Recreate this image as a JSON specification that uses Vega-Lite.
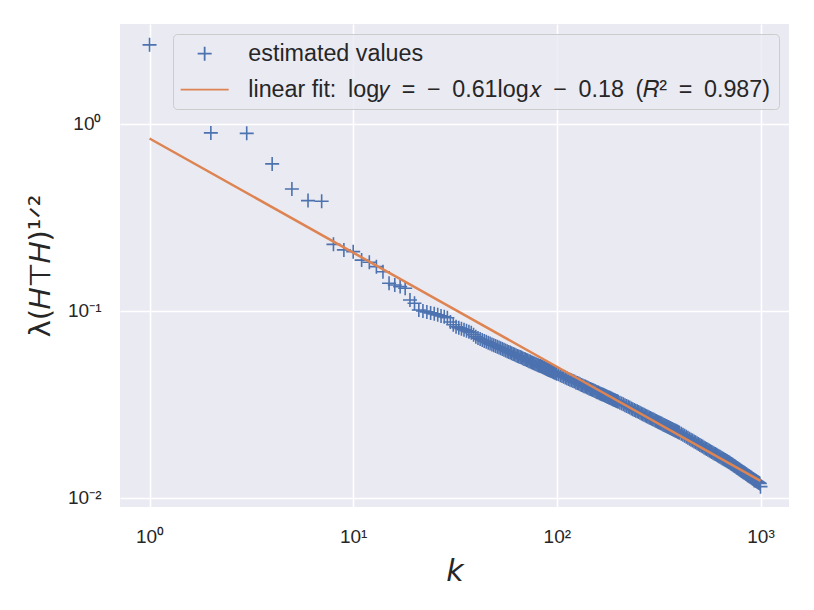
{
  "$schema": "https://vega.github.io/schema/vega-lite/v6.json",
  "width": 669,
  "height": 483,
  "autosize": {"type": "none"},
  "padding": {"left": 120, "top": 24, "right": 25, "bottom": 103},
  "background": "#ffffff",
  "config": {
    "view": {"fill": "#EAEAF2", "stroke": null},
    "font": "Liberation Sans",
    "axis": {
      "domain": false,
      "ticks": false,
      "gridColor": "#ffffff",
      "gridWidth": 1.6,
      "labelFont": "Liberation Sans",
      "labelFontSize": 19,
      "labelColor": "#262626",
      "labelFlush": false,
      "titleColor": "#262626",
      "titleFont": "DejaVu Sans",
      "titleFontWeight": "normal"
    }
  },
  "data": {"values": [
    {"k":1,"v":2.645,"s":"e"},{"k":2,"v":0.895,"s":"e"},{"k":3,"v":0.89,"s":"e"},{"k":4,"v":0.611,"s":"e"},{"k":5,"v":0.449,"s":"e"},
    {"k":6,"v":0.389,"s":"e"},{"k":7,"v":0.386,"s":"e"},{"k":8,"v":0.227,"s":"e"},{"k":9,"v":0.212,"s":"e"},{"k":10,"v":0.2075,"s":"e"},
    {"k":11,"v":0.187,"s":"e"},{"k":12,"v":0.182,"s":"e"},{"k":13,"v":0.1725,"s":"e"},{"k":14,"v":0.162,"s":"e"},{"k":15,"v":0.1407,"s":"e"},
    {"k":16,"v":0.1377,"s":"e"},{"k":17,"v":0.1349,"s":"e"},{"k":18,"v":0.1322,"s":"e"},{"k":19,"v":0.1145,"s":"e"},{"k":20,"v":0.110,"s":"e"},
    {"k":21,"v":0.1012,"s":"e"},{"k":22,"v":0.100,"s":"e"},{"k":23,"v":0.0988,"s":"e"},{"k":24,"v":0.0976,"s":"e"},{"k":25,"v":0.0965,"s":"e"},
    {"k":26,"v":0.0953,"s":"e"},{"k":27,"v":0.0941,"s":"e"},{"k":28,"v":0.093,"s":"e"},{"k":29,"v":0.0919,"s":"e"},{"k":30,"v":0.0873,"s":"e"},
    {"k":31,"v":0.0843,"s":"e"},{"k":32,"v":0.0823,"s":"e"},{"k":33,"v":0.0813,"s":"e"},{"k":34,"v":0.0803,"s":"e"},{"k":35,"v":0.0793,"s":"e"},
    {"k":36,"v":0.0783,"s":"e"},{"k":37,"v":0.0774,"s":"e"},{"k":38,"v":0.0765,"s":"e"},{"k":39,"v":0.0746,"s":"e"},{"k":40,"v":0.0728,"s":"e"},
    {"k":41,"v":0.0716,"s":"e"},{"k":42,"v":0.0707,"s":"e"},{"k":43,"v":0.0699,"s":"e"},{"k":44,"v":0.0691,"s":"e"},{"k":45,"v":0.0684,"s":"e"},
    {"k":46,"v":0.0676,"s":"e"},{"k":47,"v":0.0669,"s":"e"},{"k":48,"v":0.0662,"s":"e"},{"k":49,"v":0.0656,"s":"e"},{"k":50,"v":0.0649,"s":"e"},
    {"k":51,"v":0.0643,"s":"e"},{"k":52,"v":0.0637,"s":"e"},{"k":53,"v":0.0631,"s":"e"},{"k":54,"v":0.0625,"s":"e"},{"k":55,"v":0.0620,"s":"e"},
    {"k":56,"v":0.0614,"s":"e"},{"k":57,"v":0.0609,"s":"e"},{"k":58,"v":0.0604,"s":"e"},{"k":59,"v":0.0599,"s":"e"},{"k":60,"v":0.0594,"s":"e"},
    {"k":61,"v":0.0589,"s":"e"},{"k":62,"v":0.0585,"s":"e"},{"k":63,"v":0.0580,"s":"e"},{"k":64,"v":0.0575,"s":"e"},{"k":65,"v":0.0571,"s":"e"},
    {"k":66,"v":0.0567,"s":"e"},{"k":67,"v":0.0563,"s":"e"},{"k":68,"v":0.0558,"s":"e"},{"k":69,"v":0.0554,"s":"e"},{"k":70,"v":0.0551,"s":"e"},
    {"k":71,"v":0.0547,"s":"e"},{"k":72,"v":0.0543,"s":"e"},{"k":73,"v":0.0539,"s":"e"},{"k":74,"v":0.0536,"s":"e"},{"k":75,"v":0.0532,"s":"e"},
    {"k":76,"v":0.0529,"s":"e"},{"k":77,"v":0.0526,"s":"e"},{"k":78,"v":0.0522,"s":"e"},{"k":79,"v":0.0519,"s":"e"},{"k":80,"v":0.0516,"s":"e"},
    {"k":81,"v":0.0513,"s":"e"},{"k":82,"v":0.0510,"s":"e"},{"k":83,"v":0.0507,"s":"e"},{"k":84,"v":0.0504,"s":"e"},{"k":85,"v":0.0501,"s":"e"},
    {"k":86,"v":0.0498,"s":"e"},{"k":87,"v":0.0495,"s":"e"},{"k":88,"v":0.0492,"s":"e"},{"k":89,"v":0.0490,"s":"e"},{"k":90,"v":0.0487,"s":"e"},
    {"k":91,"v":0.0484,"s":"e"},{"k":92,"v":0.0482,"s":"e"},{"k":93,"v":0.0479,"s":"e"},{"k":94,"v":0.0477,"s":"e"},{"k":95,"v":0.0474,"s":"e"},
    {"k":96,"v":0.0472,"s":"e"},{"k":97,"v":0.0469,"s":"e"},{"k":98,"v":0.0467,"s":"e"},{"k":99,"v":0.0465,"s":"e"},{"k":100,"v":0.0462,"s":"e"},
    {"k":102,"v":0.0458,"s":"e"},{"k":104,"v":0.0453,"s":"e"},{"k":106,"v":0.0449,"s":"e"},{"k":108,"v":0.0445,"s":"e"},{"k":110,"v":0.0441,"s":"e"},
    {"k":112,"v":0.0437,"s":"e"},{"k":114,"v":0.0433,"s":"e"},{"k":116,"v":0.0429,"s":"e"},{"k":118,"v":0.0426,"s":"e"},{"k":120,"v":0.0422,"s":"e"},
    {"k":122,"v":0.0419,"s":"e"},{"k":124,"v":0.0415,"s":"e"},{"k":126,"v":0.0412,"s":"e"},{"k":128,"v":0.0409,"s":"e"},{"k":130,"v":0.0406,"s":"e"},
    {"k":132,"v":0.0402,"s":"e"},{"k":134,"v":0.0399,"s":"e"},{"k":136,"v":0.0396,"s":"e"},{"k":138,"v":0.0394,"s":"e"},{"k":140,"v":0.0391,"s":"e"},
    {"k":142,"v":0.0388,"s":"e"},{"k":144,"v":0.0385,"s":"e"},{"k":146,"v":0.0383,"s":"e"},{"k":148,"v":0.0380,"s":"e"},{"k":150,"v":0.0378,"s":"e"},
    {"k":152,"v":0.0375,"s":"e"},{"k":154,"v":0.0373,"s":"e"},{"k":156,"v":0.0370,"s":"e"},{"k":158,"v":0.0368,"s":"e"},{"k":160,"v":0.0366,"s":"e"},
    {"k":162,"v":0.0363,"s":"e"},{"k":164,"v":0.0361,"s":"e"},{"k":166,"v":0.0359,"s":"e"},{"k":168,"v":0.0357,"s":"e"},{"k":170,"v":0.0355,"s":"e"},
    {"k":172,"v":0.0353,"s":"e"},{"k":174,"v":0.0351,"s":"e"},{"k":176,"v":0.0349,"s":"e"},{"k":178,"v":0.0347,"s":"e"},{"k":180,"v":0.0345,"s":"e"},
    {"k":182,"v":0.0343,"s":"e"},{"k":184,"v":0.0341,"s":"e"},{"k":186,"v":0.0339,"s":"e"},{"k":188,"v":0.0337,"s":"e"},{"k":190,"v":0.0335,"s":"e"},
    {"k":192,"v":0.0334,"s":"e"},{"k":194,"v":0.0332,"s":"e"},{"k":196,"v":0.0330,"s":"e"},{"k":198,"v":0.0329,"s":"e"},{"k":200,"v":0.0327,"s":"e"},
    {"k":204,"v":0.03233,"s":"e"},{"k":208,"v":0.0320,"s":"e"},{"k":212,"v":0.03166,"s":"e"},{"k":216,"v":0.03134,"s":"e"},{"k":220,"v":0.03103,"s":"e"},
    {"k":224,"v":0.03072,"s":"e"},{"k":228,"v":0.03042,"s":"e"},{"k":232,"v":0.03013,"s":"e"},{"k":236,"v":0.02985,"s":"e"},{"k":240,"v":0.02958,"s":"e"},
    {"k":244,"v":0.02931,"s":"e"},{"k":248,"v":0.02905,"s":"e"},{"k":252,"v":0.02879,"s":"e"},{"k":256,"v":0.02855,"s":"e"},{"k":260,"v":0.0283,"s":"e"},
    {"k":264,"v":0.02807,"s":"e"},{"k":268,"v":0.02784,"s":"e"},{"k":272,"v":0.02761,"s":"e"},{"k":276,"v":0.02739,"s":"e"},{"k":280,"v":0.02717,"s":"e"},
    {"k":284,"v":0.02696,"s":"e"},{"k":288,"v":0.02675,"s":"e"},{"k":292,"v":0.02655,"s":"e"},{"k":296,"v":0.02635,"s":"e"},{"k":300,"v":0.02616,"s":"e"},
    {"k":304,"v":0.02597,"s":"e"},{"k":308,"v":0.02578,"s":"e"},{"k":312,"v":0.0256,"s":"e"},{"k":316,"v":0.02542,"s":"e"},{"k":320,"v":0.02525,"s":"e"},
    {"k":324,"v":0.02508,"s":"e"},{"k":328,"v":0.02491,"s":"e"},{"k":332,"v":0.02474,"s":"e"},{"k":336,"v":0.02458,"s":"e"},{"k":340,"v":0.02442,"s":"e"},
    {"k":344,"v":0.02426,"s":"e"},{"k":348,"v":0.02411,"s":"e"},{"k":352,"v":0.02396,"s":"e"},{"k":356,"v":0.02381,"s":"e"},{"k":360,"v":0.02367,"s":"e"},
    {"k":364,"v":0.02352,"s":"e"},{"k":368,"v":0.02338,"s":"e"},{"k":372,"v":0.02324,"s":"e"},{"k":376,"v":0.0231,"s":"e"},{"k":380,"v":0.02297,"s":"e"},
    {"k":384,"v":0.02285,"s":"e"},{"k":388,"v":0.02272,"s":"e"},{"k":392,"v":0.02259,"s":"e"},{"k":396,"v":0.02247,"s":"e"},{"k":400,"v":0.02234,"s":"e"},
    {"k":408,"v":0.02205,"s":"e"},{"k":416,"v":0.02178,"s":"e"},{"k":424,"v":0.02151,"s":"e"},{"k":432,"v":0.02125,"s":"e"},{"k":440,"v":0.0210,"s":"e"},
    {"k":448,"v":0.02075,"s":"e"},{"k":456,"v":0.02051,"s":"e"},{"k":464,"v":0.02028,"s":"e"},{"k":472,"v":0.02006,"s":"e"},{"k":480,"v":0.01984,"s":"e"},
    {"k":488,"v":0.01962,"s":"e"},{"k":496,"v":0.01942,"s":"e"},{"k":504,"v":0.01922,"s":"e"},{"k":512,"v":0.01902,"s":"e"},{"k":520,"v":0.01883,"s":"e"},
    {"k":528,"v":0.01864,"s":"e"},{"k":536,"v":0.01846,"s":"e"},{"k":544,"v":0.01829,"s":"e"},{"k":552,"v":0.01812,"s":"e"},{"k":560,"v":0.01795,"s":"e"},
    {"k":568,"v":0.01778,"s":"e"},{"k":576,"v":0.01763,"s":"e"},{"k":584,"v":0.01747,"s":"e"},{"k":592,"v":0.01731,"s":"e"},{"k":600,"v":0.01716,"s":"e"},
    {"k":608,"v":0.01702,"s":"e"},{"k":616,"v":0.01687,"s":"e"},{"k":624,"v":0.01673,"s":"e"},{"k":632,"v":0.01659,"s":"e"},{"k":640,"v":0.01646,"s":"e"},
    {"k":648,"v":0.01633,"s":"e"},{"k":656,"v":0.0162,"s":"e"},{"k":664,"v":0.01607,"s":"e"},{"k":672,"v":0.01595,"s":"e"},{"k":680,"v":0.01582,"s":"e"},
    {"k":688,"v":0.0157,"s":"e"},{"k":696,"v":0.01558,"s":"e"},{"k":704,"v":0.01546,"s":"e"},{"k":712,"v":0.01533,"s":"e"},{"k":720,"v":0.0152,"s":"e"},
    {"k":728,"v":0.01508,"s":"e"},{"k":736,"v":0.01496,"s":"e"},{"k":744,"v":0.01483,"s":"e"},{"k":752,"v":0.01472,"s":"e"},{"k":760,"v":0.0146,"s":"e"},
    {"k":768,"v":0.01448,"s":"e"},{"k":776,"v":0.01436,"s":"e"},{"k":784,"v":0.01425,"s":"e"},{"k":792,"v":0.01415,"s":"e"},{"k":800,"v":0.01404,"s":"e"},
    {"k":808,"v":0.01394,"s":"e"},{"k":816,"v":0.01383,"s":"e"},{"k":824,"v":0.01373,"s":"e"},{"k":832,"v":0.01363,"s":"e"},{"k":840,"v":0.01354,"s":"e"},
    {"k":848,"v":0.01344,"s":"e"},{"k":856,"v":0.01335,"s":"e"},{"k":864,"v":0.01325,"s":"e"},{"k":872,"v":0.01316,"s":"e"},{"k":880,"v":0.01307,"s":"e"},
    {"k":888,"v":0.01299,"s":"e"},{"k":896,"v":0.0129,"s":"e"},{"k":904,"v":0.01281,"s":"e"},{"k":912,"v":0.01273,"s":"e"},{"k":920,"v":0.01265,"s":"e"},
    {"k":928,"v":0.01257,"s":"e"},{"k":936,"v":0.01249,"s":"e"},{"k":944,"v":0.01241,"s":"e"},{"k":952,"v":0.01233,"s":"e"},{"k":960,"v":0.01225,"s":"e"},
    {"k":968,"v":0.01217,"s":"e"},{"k":976,"v":0.0121,"s":"e"},{"k":984,"v":0.01202,"s":"e"},{"k":992,"v":0.01195,"s":"e"},{"k":1000,"v":0.0115,"s":"e"}
  ]},
  "layer": [
    {
      "mark": {"type": "point", "filled": false, "size": 196, "strokeWidth": 1.6, "opacity": 1},
      "encoding": {
        "x": {
          "field": "k", "type": "quantitative",
          "scale": {"type": "log", "domain": [0.716, 1380], "nice": false},
          "axis": {
            "values": [1, 10, 100, 1000],
            "labelExpr": "'10' + replace(replace(replace(replace(replace('' + round(log(datum.value)/LN10), '-', '⁻'), '0', '⁰'), '1', '¹'), '2', '²'), '3', '³')",
            "labelPadding": 20,
            "title": "k",
            "titleFontSize": 30,
            "titleFontStyle": "italic",
            "titlePadding": 10
          }
        },
        "y": {
          "field": "v", "type": "quantitative",
          "scale": {"type": "log", "domain": [0.00895, 3.42], "nice": false},
          "axis": {
            "values": [0.01, 0.1, 1],
            "labelExpr": "'10' + replace(replace(replace(replace(replace('' + round(log(datum.value)/LN10), '-', '⁻'), '0', '⁰'), '1', '¹'), '2', '²'), '3', '³')",
            "labelPadding": 19,
            "title": "λ(𝐻⊤𝐻)¹ᐟ²",
            "titleFontSize": 29,
            "titlePadding": 12
          }
        },
        "color": {
          "field": "s", "type": "nominal",
          "scale": {"domain": ["e", "f"], "range": ["#4C72B0", "#DD8452"]},
          "legend": {
            "title": null,
            "orient": "top-right",
            "offset": 10,
            "labelExpr": "datum.label == 'e' ? 'estimated values' : 'linear fit:\u2002log𝑦\u2002=\u2002−\u20020.61log𝑥\u2002−\u20020.18\u2002(𝑅²\u2002=\u20020.987)'",
            "labelFont": "Liberation Sans",
            "labelFontSize": 23.3,
            "labelColor": "#262626",
            "labelLimit": 800,
            "labelOffset": 32,
            "symbolOffset": 12,
            "symbolSize": 196,
            "symbolStrokeWidth": 1.8,
            "padding": 8,
            "rowPadding": 12,
            "fillColor": "rgba(234,234,242,0.8)",
            "strokeColor": "#cccccc",
            "cornerRadius": 4
          }
        },
        "shape": {
          "field": "s", "type": "nominal",
          "scale": {"domain": ["e", "f"], "range": ["M-1,0L1,0M0,-1L0,1", "M-3.43,0L3.43,0"]}
        }
      }
    },
    {
      "data": {"values": [
        {"k": 1, "v": 0.8353},
        {"k": 10, "v": 0.2050},
        {"k": 100, "v": 0.05032},
        {"k": 1000, "v": 0.012353}
      ]},
      "mark": {"type": "line", "color": "#DD8452", "strokeWidth": 2.5},
      "encoding": {
        "x": {"field": "k", "type": "quantitative"},
        "y": {"field": "v", "type": "quantitative"}
      }
    }
  ]
}
